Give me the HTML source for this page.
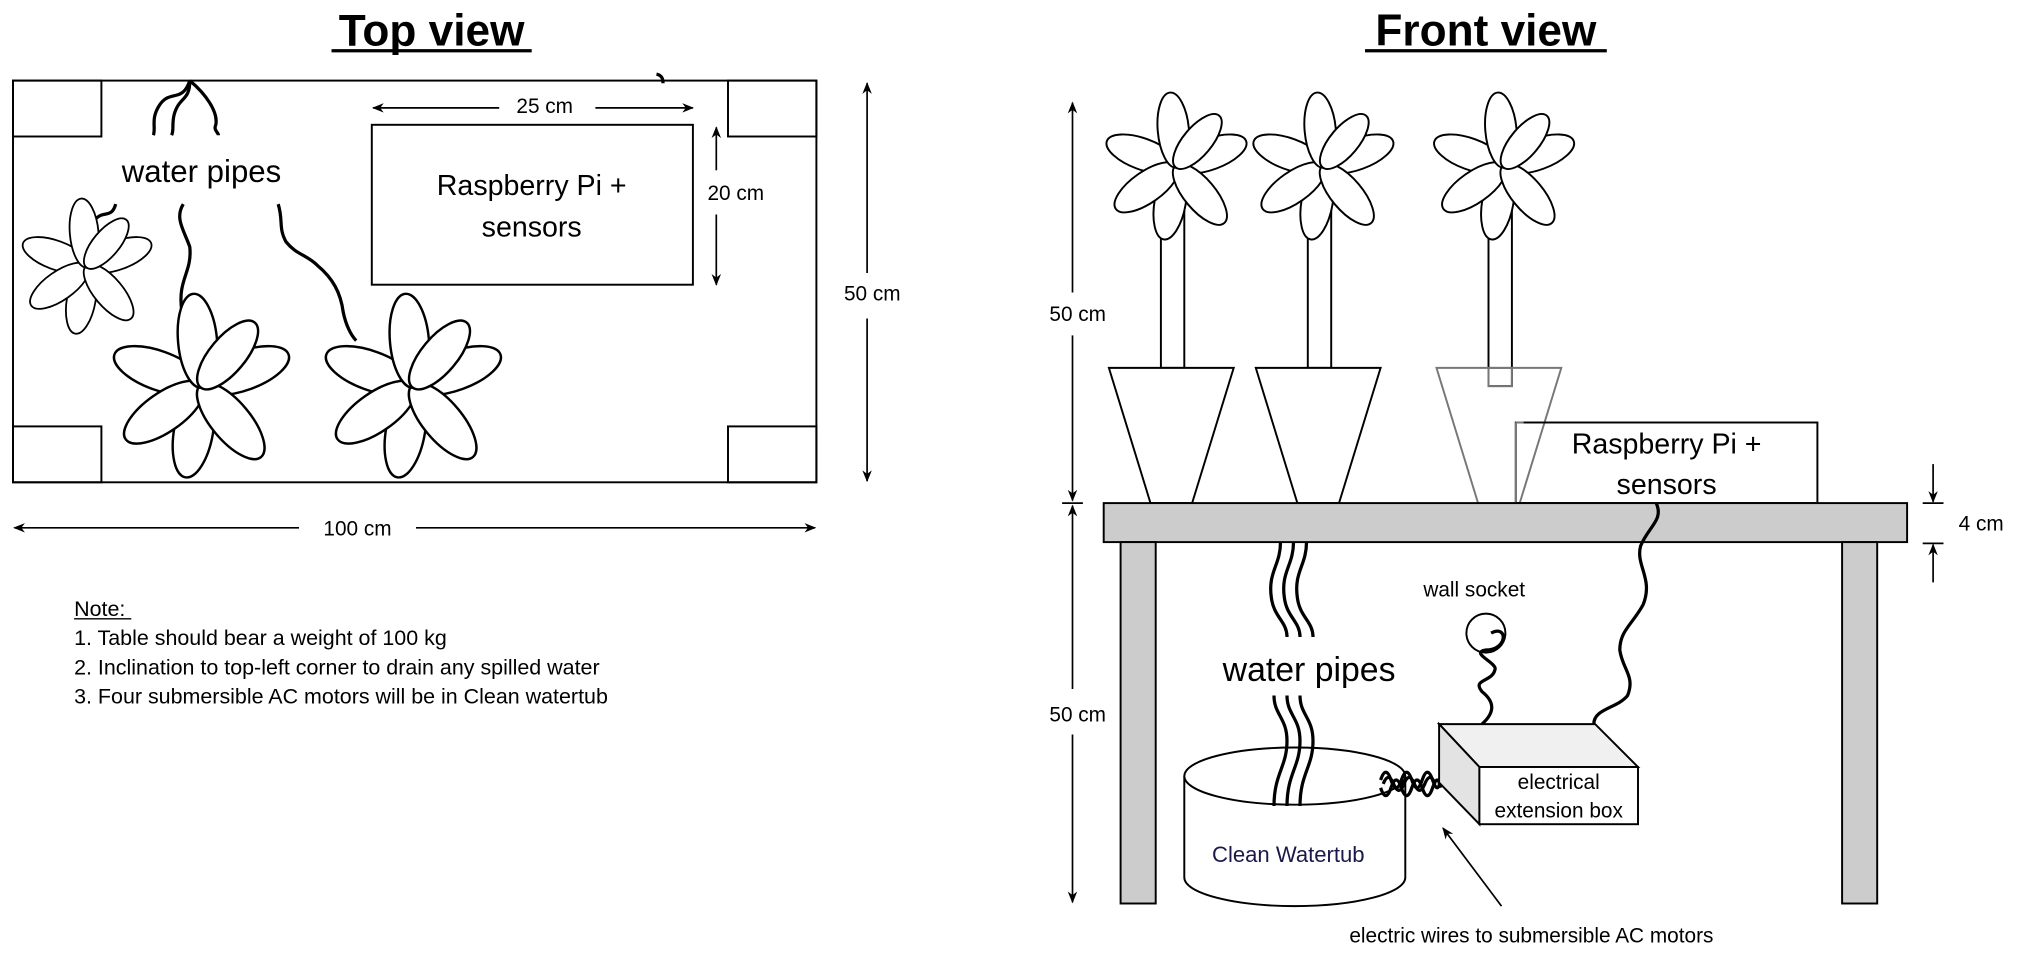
<!DOCTYPE html>
<html><head><meta charset="utf-8"><style>
html,body{margin:0;padding:0;background:#fff;}
svg{display:block;}
text{font-family:"Liberation Sans",Arial,sans-serif;fill:#000;}
</style></head><body>
<svg width="2028" height="962" viewBox="0 0 1560 740" xmlns="http://www.w3.org/2000/svg">
<defs>
<marker id="ar" viewBox="0 0 10 10" refX="9" refY="5" markerWidth="7" markerHeight="7" orient="auto-start-reverse"><path d="M0,1 L10,5 L0,9 L3,5 z" fill="#000"/></marker>
<g id="fl">
  <g fill="#fff" stroke="#000" stroke-width="1.5">
    <ellipse cx="28" cy="0" rx="29" ry="12" transform="rotate(200)"/>
    <ellipse cx="28" cy="0" rx="29" ry="12" transform="rotate(100)"/>
    <ellipse cx="28" cy="0" rx="29" ry="12" transform="rotate(-20)"/>
    <ellipse cx="28" cy="0" rx="29" ry="12" transform="rotate(145)"/>
    <ellipse cx="28" cy="0" rx="29" ry="12" transform="rotate(50)"/>
    <ellipse cx="28" cy="0" rx="29" ry="12" transform="rotate(265)"/>
    <ellipse cx="25" cy="0" rx="26" ry="11" transform="rotate(-50)"/>
  </g>
</g>
</defs>

<!-- Titles -->
<text x="332" y="35" font-size="34" font-weight="bold" text-anchor="middle">Top view</text>
<line x1="255" y1="39" x2="409" y2="39" stroke="#000" stroke-width="2.5"/>
<text x="1143" y="35" font-size="34" font-weight="bold" text-anchor="middle">Front view</text>
<line x1="1050" y1="39" x2="1236" y2="39" stroke="#000" stroke-width="2.5"/>

<!-- TOP VIEW -->
<g fill="none" stroke="#000" stroke-width="1.5">
<rect x="10" y="62" width="618" height="309"/>
<rect x="10" y="62" width="68" height="43"/>
<rect x="560" y="62" width="68" height="43"/>
<rect x="10" y="328" width="68" height="43"/>
<rect x="560" y="328" width="68" height="43"/>
<rect x="286" y="96" width="247" height="123"/>
</g>
<text x="409" y="150" font-size="22" text-anchor="middle">Raspberry Pi +</text>
<text x="409" y="182" font-size="22" text-anchor="middle">sensors</text>
<g stroke="#000" stroke-width="1.3" fill="none">
<line x1="384" y1="83" x2="287" y2="83" marker-end="url(#ar)"/>
<line x1="458" y1="83" x2="533" y2="83" marker-end="url(#ar)"/>
<line x1="551" y1="131" x2="551" y2="98" marker-end="url(#ar)"/>
<line x1="551" y1="165" x2="551" y2="219" marker-end="url(#ar)"/>
<line x1="667" y1="210" x2="667" y2="64" marker-end="url(#ar)"/>
<line x1="667" y1="245" x2="667" y2="370" marker-end="url(#ar)"/>
<line x1="230" y1="406" x2="11" y2="406" marker-end="url(#ar)"/>
<line x1="320" y1="406" x2="627" y2="406" marker-end="url(#ar)"/>
</g>
<text x="419" y="87" font-size="16" text-anchor="middle">25 cm</text>
<text x="566" y="154" font-size="16" text-anchor="middle">20 cm</text>
<text x="671" y="231" font-size="16" text-anchor="middle">50 cm</text>
<text x="275" y="412" font-size="16" text-anchor="middle">100 cm</text>

<!-- pipes top -->
<g fill="none" stroke="#000" stroke-width="2.5">
<path d="M146,62 C140,80 130,68 122,82 C116,92 120,98 118,104"/>
<path d="M146,62 C146,78 138,74 134,88 C132,96 134,100 132,104"/>
<path d="M146,62 C158,72 168,86 166,96 C164,100 168,102 168,104"/>
<path d="M89,157 C86,168 80,162 74,168 C68,172 70,180 66,185"/>
<path d="M141,157 C134,168 142,178 146,190 C148,210 136,215 140,240"/>
<path d="M214,157 C218,170 214,175 220,186 C228,196 236,196 244,204 C256,214 262,225 264,240 C266,250 270,258 274,262"/>
<path d="M505,57 C510,58 510,62 510,64"/>
</g>
<rect x="80" y="116" width="150" height="32" fill="#fff"/>
<text x="155" y="140" font-size="24" text-anchor="middle">water pipes</text>
<use href="#fl" transform="translate(67,205) scale(0.92)"/>
<use href="#fl" transform="translate(155,297) scale(1.25)"/>
<use href="#fl" transform="translate(318,297) scale(1.25)"/>

<!-- Note -->
<text x="57" y="474" font-size="16.5">Note:</text>
<line x1="57" y1="476" x2="101" y2="476" stroke="#000" stroke-width="1"/>
<text x="57" y="496" font-size="16.5">1. Table should bear a weight of 100 kg</text>
<text x="57" y="519" font-size="16.5">2. Inclination to top-left corner to drain any spilled water</text>
<text x="57" y="541" font-size="16.5">3. Four submersible AC motors will be in Clean watertub</text>

<!-- FRONT VIEW -->
<g stroke="#000" stroke-width="1.3" fill="none">
<line x1="825" y1="225" x2="825" y2="79" marker-end="url(#ar)"/>
<line x1="825" y1="258" x2="825" y2="385" marker-end="url(#ar)"/>
<line x1="825" y1="530" x2="825" y2="389" marker-end="url(#ar)"/>
<line x1="825" y1="565" x2="825" y2="694" marker-end="url(#ar)"/>
<line x1="817" y1="387" x2="833" y2="387"/>
<line x1="1487" y1="357" x2="1487" y2="386" marker-end="url(#ar)"/>
<line x1="1487" y1="448" x2="1487" y2="419" marker-end="url(#ar)"/>
<line x1="1479" y1="387" x2="1495" y2="387"/>
<line x1="1479" y1="418" x2="1495" y2="418"/>
</g>
<text x="829" y="247" font-size="16" text-anchor="middle">50 cm</text>
<text x="829" y="555" font-size="16" text-anchor="middle">50 cm</text>
<text x="1524" y="408" font-size="16" text-anchor="middle">4 cm</text>

<!-- stems -->
<g fill="#fff" stroke="#000" stroke-width="1.5">
<rect x="893" y="150" width="18" height="133"/>
<rect x="1006" y="150" width="18" height="133"/>
<rect x="1145" y="150" width="18" height="147"/>
</g>
<use href="#fl" transform="translate(905,128)"/>
<use href="#fl" transform="translate(1018,128)"/>
<use href="#fl" transform="translate(1157,128)"/>
<!-- pots -->
<g fill="#fff" stroke="#000" stroke-width="1.5">
<polygon points="853,283 949,283 917,387 885,387"/>
<polygon points="966,283 1062,283 1030,387 998,387"/>
</g>
<polygon points="1105,283 1201,283 1169,387 1137,387" fill="none" stroke="#777" stroke-width="1.5"/>
<rect x="1145" y="283" width="18" height="14" fill="none" stroke="#777" stroke-width="1.5"/>
<rect x="1166" y="325" width="232" height="62" fill="none" stroke="#000" stroke-width="1.5"/>
<line x1="1166" y1="325" x2="1172" y2="325" stroke="#777" stroke-width="1.5"/>
<line x1="1166" y1="325" x2="1166" y2="387" stroke="#777" stroke-width="1.5"/>
<text x="1282" y="349" font-size="22" text-anchor="middle">Raspberry Pi +</text>
<text x="1282" y="380" font-size="22" text-anchor="middle">sensors</text>

<!-- table -->
<g fill="#ccc" stroke="#000" stroke-width="1.5">
<rect x="849" y="387" width="618" height="30"/>
<rect x="862" y="417" width="27" height="278"/>
<rect x="1417" y="417" width="27" height="278"/>
</g>

<!-- tub -->
<path d="M911,597 L911,675 A85,22 0 0 0 1081,675 L1081,597" fill="#fff" stroke="#000" stroke-width="1.5"/>
<ellipse cx="996" cy="597" rx="85" ry="22" fill="#fff" stroke="#000" stroke-width="1.5"/>

<!-- pipes front -->
<g fill="none" stroke="#000" stroke-width="2.5">
<path d="M985,417 C985,435 975,440 978,460 C980,475 990,478 990,490"/>
<path d="M995,417 C995,435 985,440 988,460 C990,475 1000,478 1000,490"/>
<path d="M1005,417 C1005,435 995,440 998,460 C1000,475 1010,478 1010,490"/>
<path d="M980,535 C980,550 990,552 990,570 C990,590 980,595 980,620"/>
<path d="M990,535 C990,550 1000,552 1000,570 C1000,590 990,595 990,620"/>
<path d="M1000,535 C1000,550 1010,552 1010,570 C1010,590 1000,595 1000,620"/>
<path d="M1274,387 C1280,400 1268,405 1262,420 C1258,435 1272,445 1264,465 C1256,480 1246,485 1246,500 C1248,515 1258,520 1252,535 C1244,545 1226,545 1226,557"/>
<path d="M1147,487 C1160,480 1160,500 1143,500 C1130,502 1152,510 1150,515 C1148,525 1132,522 1140,532 C1150,540 1150,548 1140,557"/>
</g>
<text x="1007" y="524" font-size="26" text-anchor="middle">water pipes</text>
<text x="991" y="663" font-size="17" text-anchor="middle" style="fill:#1a1a4a">Clean Watertub</text>

<!-- wires coil -->
<g fill="none" stroke="#000" stroke-width="2.5">
<path d="M1062,600 q4,-12 8,0 t8,0 t8,0 t8,0 t8,0 t6,0"/>
<path d="M1062,606 q4,12 8,0 t8,0 t8,0 t8,0 t8,0 t6,0"/>
<path d="M1064,603 q4,-10 8,0 t8,0 t8,0 t8,0 t8,0"/>
</g>

<!-- box -->
<g stroke="#000" stroke-width="1.5">
<polygon points="1107,557 1227,557 1260,590 1138,590" fill="#f0f0f0"/>
<polygon points="1107,557 1138,590 1138,634 1107,602" fill="#e3e3e3"/>
<rect x="1138" y="590" width="122" height="44" fill="#fff"/>
</g>
<text x="1199" y="607" font-size="16" text-anchor="middle">electrical</text>
<text x="1199" y="629" font-size="16" text-anchor="middle">extension box</text>

<circle cx="1143" cy="487" r="15" fill="none" stroke="#000" stroke-width="1.5"/>
<text x="1134" y="459" font-size="16" text-anchor="middle">wall socket</text>

<line x1="1155" y1="697" x2="1110" y2="637" stroke="#000" stroke-width="1.3" marker-end="url(#ar)"/>
<text x="1178" y="725" font-size="16" text-anchor="middle">electric wires to submersible AC motors</text>
</svg>
</body></html>
